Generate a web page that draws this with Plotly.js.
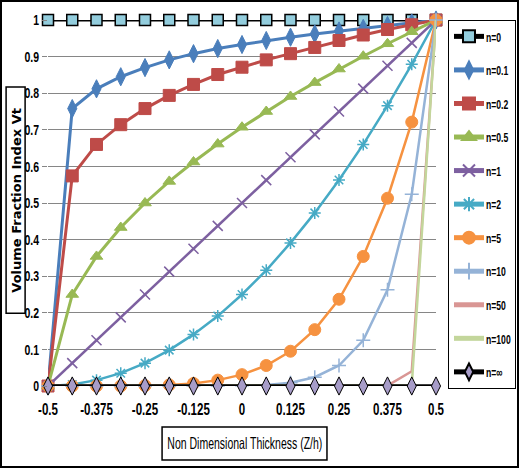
<!DOCTYPE html>
<html><head><meta charset="utf-8">
<script src="https://cdn.plot.ly/plotly-3.0.1.min.js"></script>
<style>
html,body{margin:0;padding:0;background:#fff;}
#chart{width:519px;height:468px;box-sizing:border-box;border:2px solid #000;}
</style></head>
<body><div id="chart"></div>
<script>
// Non dimensional thickness positions (Z/h)
const zh = [-0.5,-0.4375,-0.375,-0.3125,-0.25,-0.1875,-0.125,-0.0625,0,0.0625,0.125,0.1875,0.25,0.3125,0.375,0.4375,0.5];
const xTicks = [-0.5,-0.375,-0.25,-0.125,0,0.125,0.25,0.375,0.5];
const xTickText = ['-0.5','-0.375','-0.25','-0.125','0','0.125','0.25','0.375','0.5'];
const yTicks = [0,0.1,0.2,0.3,0.4,0.5,0.6,0.7,0.8,0.9,1];
const yTickText = ['0','0.1','0.2','0.3','0.4','0.5','0.6','0.7','0.8','0.9','1'];

const names = ['n=0','n=0.1','n=0.2','n=0.5','n=1','n=2','n=5','n=10','n=50','n=100','n=∞'];
const v_n0   = [1,1,1,1,1,1,1,1,1,1,1,1,1,1,1,1,1];
const v_n01  = [0,0.758,0.812,0.845,0.870,0.891,0.908,0.922,0.933,0.944,0.953,0.962,0.970,0.977,0.985,0.992,1];
const v_n02  = [0,0.574,0.660,0.714,0.758,0.794,0.824,0.851,0.871,0.891,0.908,0.925,0.944,0.959,0.974,0.987,1];
const v_n05  = [0,0.25,0.354,0.433,0.5,0.559,0.612,0.661,0.707,0.75,0.791,0.829,0.866,0.901,0.935,0.968,1];
const v_n1   = [0,0.0625,0.125,0.1875,0.25,0.3125,0.375,0.4375,0.5,0.5625,0.625,0.6875,0.75,0.8125,0.875,0.9375,1];
const v_n2   = [0,0.004,0.016,0.035,0.0625,0.098,0.141,0.191,0.25,0.316,0.391,0.473,0.563,0.660,0.766,0.879,1];
const v_n5   = [0,0,0,0,0.001,0.003,0.007,0.016,0.031,0.056,0.095,0.154,0.237,0.354,0.513,0.721,1];
const v_n10  = [0,0,0,0,0,0,0,0,0.001,0.003,0.009,0.024,0.056,0.125,0.263,0.524,1];
const v_n50  = [0,0,0,0,0,0,0,0,0,0,0,0,0,0,0.001,0.040,1];
const v_n100 = [0,0,0,0,0,0,0,0,0,0,0,0,0,0,0,0.002,1];
const v_ninf = [0,0,0,0,0,0,0,0,0,0,0,0,0,0,0,0,0];
const values = [v_n0,v_n01,v_n02,v_n05,v_n1,v_n2,v_n5,v_n10,v_n50,v_n100,v_ninf];

const styles = [
  {lc:'#000000', lw:3, sym:'square', ms:11, mc:'#93CDDD', mlc:'#000000', mlw:1.5},
  {lc:'#4A7EBB', lw:3, sym:'diamond-tall', ms:13, mc:'#4A7EBB', mlc:'#4A7EBB', mlw:1},
  {lc:'#BE4B48', lw:3, sym:'square', ms:12, mc:'#BE4B48', mlc:'#BE4B48', mlw:1},
  {lc:'#98B954', lw:3, sym:'triangle-up', ms:11, mc:'#98B954', mlc:'#98B954', mlw:1},
  {lc:'#7D60A0', lw:2.5, sym:'x-thin', ms:10, mc:'#7D60A0', mlc:'#7D60A0', mlw:1.5},
  {lc:'#46AAC5', lw:2.5, sym:'asterisk', ms:10, mc:'#46AAC5', mlc:'#46AAC5', mlw:1.5},
  {lc:'#F69240', lw:2.5, sym:'circle', ms:12, mc:'#F69240', mlc:'#F69240', mlw:1},
  {lc:'#95B3D7', lw:2.5, sym:'cross-thin', ms:10, mc:'#95B3D7', mlc:'#95B3D7', mlw:1.5},
  {lc:'#D99694', lw:2.5, sym:null},
  {lc:'#C3D69B', lw:2.5, sym:null},
  {lc:'#000000', lw:3.5, sym:'diamond-tall', ms:13, mc:'#A79CC8', mlc:'#000000', mlw:1}
];

const traces = names.map((nm,i)=>{
  const s = styles[i];
  const t = {x: zh, y: values[i], name: nm, type:'scatter', legendgroup:'g'+i,
    line:{color:s.lc, width:s.lw}, cliponaxis:false};
  if (s.sym){ t.mode='lines+markers'; t.marker={symbol:s.sym,size:s.ms,color:s.mc,line:{color:s.mlc,width:s.mlw}}; }
  else { t.mode='lines'; }
  return t;
});

const lib = 'Liberation Sans, Arial, sans-serif';
const layout = {
  width:515, height:464,
  margin:{l:46, r:81, t:18, b:80},
  paper_bgcolor:'#fff', plot_bgcolor:'#fff',
  showlegend:true,
  legend:{xref:'container', x:0.866, xanchor:'left', yref:'container', y:0.961, yanchor:'top',
          bordercolor:'#000', borderwidth:1, maxheight:440, itemsizing:'constant',
          font:{family:lib, size:13.5, color:'#000', weight:'bold'}, tracegroupgap:13, itemwidth:30},
  xaxis:{range:[-0.5,0.5], tickvals:xTicks, ticktext:xTickText, showgrid:false, zeroline:false,
         showline:false, ticks:'', ticklabelstandoff:12,
         tickfont:{family:lib, size:16, color:'#000', weight:'bold'}},
  yaxis:{range:[0,1], tickvals:yTicks, ticktext:yTickText, showgrid:true, gridcolor:'#868686', gridwidth:1,
         zeroline:false, showline:false, ticks:'outside', ticklen:5, tickcolor:'#868686',
         tickfont:{family:lib, size:15, color:'#000', weight:'bold'}},
  shapes:[
    {type:'rect', xref:'paper', yref:'paper', x0:-0.108, x1:-0.059, y0:0.199, y1:0.817, line:{color:'#000', width:1.5}, fillcolor:'rgba(0,0,0,0)'},
    {type:'rect', xref:'paper', yref:'paper', x0:0.294, x1:0.719, y0:-0.202, y1:-0.112, line:{color:'#000', width:1.5}, fillcolor:'rgba(0,0,0,0)'}
  ],
  annotations:[
    {text:'<b>Volume Fraction Index Vt</b>', xref:'paper', yref:'paper', x:-0.0835, y:0.508,
     xanchor:'center', yanchor:'middle', textangle:-90, showarrow:false,
     font:{family:'DejaVu Sans, Verdana, sans-serif', size:13, color:'#000'}},
    {text:'Non Dimensional Thickness (Z/h)', xref:'paper', yref:'paper', x:0.5065, y:-0.157,
     xanchor:'center', yanchor:'middle', showarrow:false,
     font:{family:lib, size:16.5, color:'#000'}}
  ]
};

function squeeze(nodes, f, target){
  nodes.forEach(t=>{
    const L = t.getComputedTextLength();
    const w = target ? target : L*f;
    t.setAttribute('textLength', w.toFixed(1));
    t.setAttribute('lengthAdjust','spacingAndGlyphs');
  });
}
Plotly.newPlot('chart', traces, layout, {displayModeBar:false, staticPlot:true}).then(()=>{
  squeeze(document.querySelectorAll('#chart .xtick text'), 0.72);
  squeeze(document.querySelectorAll('#chart .ytick text'), 0.7);
  const lt = document.querySelectorAll('#chart .legendtext');
  squeeze(lt, 0.64);
  const an = document.querySelectorAll('#chart .annotation-text');
  if (an[1]) squeeze([an[1]], 1, 155);
  // tighten legend box around narrowed text
  let maxR = 0;
  lt.forEach(t=>{ t.setAttribute('x', 37); maxR = Math.max(maxR, 37 + parseFloat(t.getAttribute('textLength'))); });
  const bg = document.querySelector('#chart .legend rect.bg');
  if (bg) bg.setAttribute('width', (maxR + 5).toFixed(1));
});
</script></body></html>
